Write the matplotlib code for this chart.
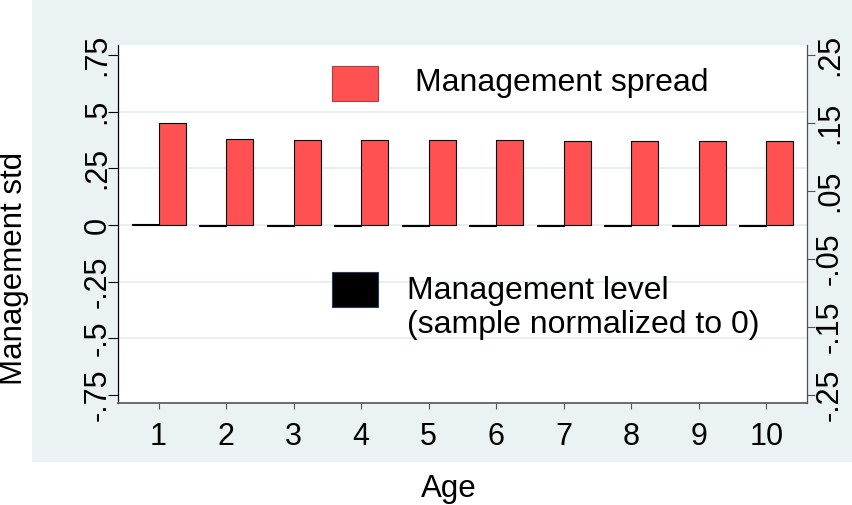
import matplotlib
matplotlib.use("Agg")
import matplotlib.pyplot as plt
from matplotlib.patches import Rectangle
import numpy as np

plt.rcParams['font.family'] = ['Liberation Sans', 'DejaVu Sans']

# ---- data ----
ages = [1, 2, 3, 4, 5, 6, 7, 8, 9, 10]
mgmt_spread = [0.449, 0.378, 0.377, 0.377, 0.375, 0.373, 0.371, 0.371, 0.369, 0.369]
mgmt_level = [0.001, -0.001, -0.002, -0.002, -0.001, -0.001, -0.001, -0.001, -0.001, -0.001]
left_ticks = [-0.75, -0.5, -0.25, 0, 0.25, 0.5, 0.75]
left_labels = ['-.75', '-.5', '-.25', '0', '.25', '.5', '.75']
right_ticks = [-0.25, -0.15, -0.05, 0.05, 0.15, 0.25]
right_labels = ['-.25', '-.15', '-.05', '.05', '.15', '.25']
spread_label = 'Management spread'
level_label = 'Management level\n(sample normalized to 0)'

W, H = 853, 505
fig = plt.figure(figsize=(W / 100, H / 100), dpi=100)
fig.patch.set_facecolor('white')

# shaded graph region
fig.patches.append(Rectangle((32 / W, 1 - 462 / H), 1 - 32 / W, 462 / H,
                             transform=fig.transFigure, facecolor='#EAF2F3',
                             edgecolor='none', zorder=-10))

ax = fig.add_axes([118 / W, 1 - 403 / H, (807 - 118) / W, (403 - 45) / H])
ax.set_facecolor('white')
ax2 = ax.twinx()

x = np.array(ages, dtype=float)
bw = 0.4
red = '#FF5151'
ax.bar(x + bw / 2, mgmt_spread, width=bw, color=red, edgecolor='black',
       linewidth=0.8, zorder=3)
ax2.bar(x - bw / 2, mgmt_level, width=bw, color='black', edgecolor='black',
        linewidth=0.8, zorder=3)

ylo, yhi = -0.785, 0.794
ax.set_ylim(ylo, yhi)
ax2.set_ylim(ylo / 3, yhi / 3)
ax.set_xlim(0.4, 10.6)

ax.set_yticks(left_ticks)
ax.set_yticklabels(left_labels, rotation=90, va='center')
ax2.set_yticks(right_ticks)
ax2.set_yticklabels(right_labels, rotation=90, va='center')
ax.set_xticks(ages)
ax.set_xticklabels([str(a) for a in ages])

# grid lines at inner left ticks
for t in left_ticks[1:-1]:
    ax.axhline(t, color='#E6EEF0', linewidth=1.3, zorder=1)

ax.tick_params(axis='x', labelsize=22, length=4, width=0.8, color='#555555', pad=10)
ax.tick_params(axis='y', labelsize=22, length=7, width=0.8, color='black', pad=-3)
ax2.tick_params(axis='y', labelsize=22, length=5.8, width=0.8, color='#555555', pad=0)

for a in (ax, ax2):
    a.spines['top'].set_visible(False)
ax.spines['left'].set_color('black')
ax.spines['left'].set_linewidth(0.9)
ax.spines['bottom'].set_color('#606060')
ax.spines['bottom'].set_linewidth(1.3)
ax2.spines['right'].set_color('#505050')
ax2.spines['right'].set_linewidth(0.9)
ax2.spines['left'].set_visible(False)
ax2.spines['bottom'].set_visible(False)
ax.spines['right'].set_visible(False)

ax.set_xlabel('Age', fontsize=22.5, va='center')
ax.xaxis.set_label_coords((449 - 118) / 689, -(489 - 403) / 358)
ax.set_ylabel('Management std', fontsize=22.5, va='center')
ax.yaxis.set_label_coords((14 - 118) / 689, (403 - 268) / 358)

# legend (keys + labels) inside plot region
ax_w, ax_h = 689, 358
def ax_frac(px, py):
    return ((px - 118) / ax_w, (403 - py) / ax_h)

x0, y0 = ax_frac(332, 101)
ax2.add_patch(Rectangle((x0, y0), 46 / ax_w, 35 / ax_h, transform=ax.transAxes,
                        facecolor=red, edgecolor='#B04040', linewidth=0.8, zorder=5))
tx, ty = ax_frac(415, 83)
ax2.text(tx, ty, spread_label, transform=ax.transAxes, fontsize=23,
         ha='left', va='center', zorder=5)

x0, y0 = ax_frac(332, 307)
ax2.add_patch(Rectangle((x0, y0), 46 / ax_w, 35 / ax_h, transform=ax.transAxes,
                        facecolor='black', edgecolor='#1F3F5F', linewidth=0.8, zorder=5))
tx, ty = ax_frac(407, 308)
ax2.text(tx, ty, level_label, transform=ax.transAxes, fontsize=23,
         ha='left', va='center', linespacing=1.2, zorder=5)

fig.savefig('out.png', dpi=100, facecolor=fig.get_facecolor())
